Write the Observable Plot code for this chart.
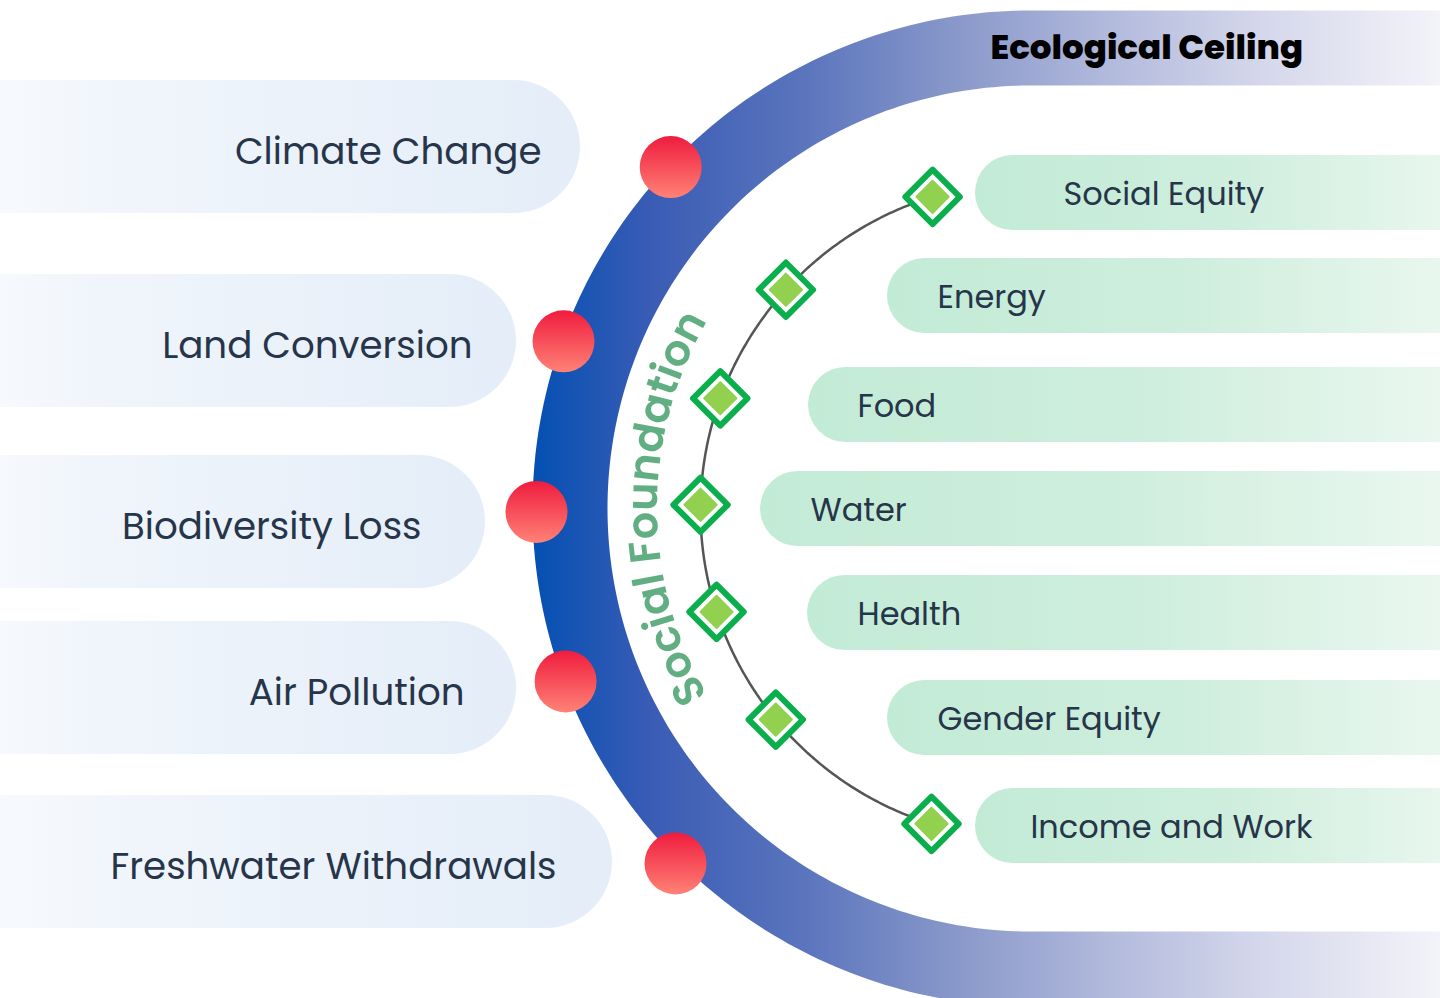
<!DOCTYPE html>
<html>
<head>
<meta charset="utf-8">
<script src="https://cdn.jsdelivr.net/npm/d3@7"></script>
<script src="https://cdn.jsdelivr.net/npm/@observablehq/plot@0.6"></script>
<style>
  html, body { margin: 0; padding: 0; background: #ffffff; overflow: hidden; }
  #chart svg { display: block; }
</style>
</head>
<body>
<div id="chart"></div>
<script>
// ---------------- DATA ----------------
const title = "Ecological Ceiling";
const foundationLabel = "Social Foundation";
const ceilingCategories = ["Climate Change", "Land Conversion", "Biodiversity Loss", "Air Pollution", "Freshwater Withdrawals"];
const foundationCategories = ["Social Equity", "Energy", "Food", "Water", "Health", "Gender Equity", "Income and Work"];

// ---------------- LAYOUT ----------------
const W = 1440, H = 998;
const band = {cx: 1030, cy: 508, rOuter: 498, rInner: 423};
const dia = {cx: 1028, cy: 510, r: 328};
const leftPillY = [146.5, 340.5, 521.5, 687.5, 861.5];
const leftPillEnd = [580, 516, 485, 516, 612];
const leftTextEnd = [541, 472, 421, 464, 556];
const redAngle = [43.5, 19.7, -0.4, -20.4, -45];        // degrees, from leftward, + = up
const redRadius = [496, 496, 494, 496, 502];
const rightPillY = [192.5, 295.5, 404.5, 508.5, 612.5, 717.5, 825.5];
const rightPillStart = [975, 887, 808, 760, 807, 887, 975];
const rightTextStart = [1063, 937, 857, 810, 857, 937, 1030];
const diamondAngle = [73, 42.3, 20, 1, -18, -39.6, -72.8];

const rad = d => d * Math.PI / 180;
const onCircle = (c, r, a) => ({x: c.cx - r * Math.cos(rad(a)), y: c.cy - r * Math.sin(rad(a))});

// tables for marks
const leftPills = ceilingCategories.map((name, i) => ({
  name, y: leftPillY[i], x1: -120, x2: leftPillEnd[i], tx: leftTextEnd[i]
}));
const redDots = ceilingCategories.map((name, i) => ({name, ...onCircle(band, redRadius[i], redAngle[i])}));
const rightPills = foundationCategories.map((name, i) => ({
  name, y: rightPillY[i], x1: rightPillStart[i], x2: W + 60, tx: rightTextStart[i]
}));
const diamonds = foundationCategories.map((name, i) => ({name, ...onCircle(dia, dia.r, diamondAngle[i])}));

// band centre line: horizontal top arm, half circle on the left, horizontal bottom arm
const rMid = (band.rOuter + band.rInner) / 2;
const bandPath = [{x: W + 80, y: band.cy - rMid}];
for (let a = 90; a >= -90; a -= 1) bandPath.push(onCircle(band, rMid, a));
bandPath.push({x: W + 80, y: band.cy + rMid});

// connecting arc between the first and last diamonds
const linkPath = [];
for (let a = diamondAngle[0]; a >= diamondAngle[diamondAngle.length - 1] - 0.01; a -= 0.5) linkPath.push(onCircle(dia, dia.r, a));

const ns = "http://www.w3.org/2000/svg";
function defsMark() {
  const defs = document.createElementNS(ns, "defs");
  defs.innerHTML = `
    <linearGradient id="bandGrad" gradientUnits="userSpaceOnUse" x1="533" y1="0" x2="1440" y2="0">
      <stop offset="0" stop-color="#0450b3"/>
      <stop offset="0.13" stop-color="#3a5cb5"/>
      <stop offset="0.30" stop-color="#5b75bd"/>
      <stop offset="0.46" stop-color="#8797c9"/>
      <stop offset="0.63" stop-color="#b1b9dc"/>
      <stop offset="0.80" stop-color="#d4d7eb"/>
      <stop offset="1" stop-color="#f3f3f9"/>
    </linearGradient>
    <linearGradient id="leftGrad" x1="0" y1="0" x2="1" y2="0">
      <stop offset="0" stop-color="#fdfeff"/>
      <stop offset="0.35" stop-color="#f0f5fb"/>
      <stop offset="1" stop-color="#e4edf8"/>
    </linearGradient>
    <linearGradient id="rightGrad" x1="0" y1="0" x2="1" y2="0">
      <stop offset="0" stop-color="#c2ebd6"/>
      <stop offset="0.5" stop-color="#cfeedd"/>
      <stop offset="1" stop-color="#eff9f3"/>
    </linearGradient>
    <linearGradient id="redGrad" x1="0" y1="0" x2="0" y2="1">
      <stop offset="0" stop-color="#ef1c3e"/>
      <stop offset="1" stop-color="#ff8276"/>
    </linearGradient>
    <filter id="soft" x="-10%" y="-10%" width="120%" height="120%">
      <feGaussianBlur stdDeviation="0.7"/>
    </filter>`;
  return defs;
}

function foundationText(index, scales) {
  const g = document.createElementNS(ns, "g");
  const r = 373;
  const pts = [];
  for (let a = -80; a <= 80; a += 1) {
    const p = onCircle(band, r, a);
    pts.push([scales.x(p.x), scales.y(p.y)]);
  }
  const path = document.createElementNS(ns, "path");
  path.setAttribute("id", "sfArc");
  path.setAttribute("d", "M" + pts.map(p => p.join(",")).join("L"));
  path.setAttribute("fill", "none");
  g.appendChild(path);
  const text = document.createElementNS(ns, "text");
  text.setAttribute("font-family", "Poppins, 'Open Sans', sans-serif");
  text.setAttribute("font-weight", "600");
  text.setAttribute("font-size", "43");
  text.setAttribute("fill", "#45a06c");
  text.setAttribute("fill-opacity", "0.85");
  text.setAttribute("filter", "url(#soft)");
  const tp = document.createElementNS(ns, "textPath");
  tp.setAttribute("href", "#sfArc");
  tp.setAttribute("startOffset", "50%");
  tp.setAttribute("text-anchor", "middle");
  tp.textContent = foundationLabel;
  text.appendChild(tp);
  g.appendChild(text);
  return g;
}

const font = "Poppins, 'Open Sans', sans-serif";
const chart = Plot.plot({
  width: W,
  height: H,
  margin: 0,
  x: {domain: [0, W], range: [0, W], axis: null},
  y: {domain: [0, H], range: [0, H], axis: null},
  style: {background: "#ffffff", fontFamily: font},
  marks: [
    defsMark,
    // left (ecological ceiling) pills
    Plot.rect(leftPills, {x1: "x1", x2: "x2", y1: d => d.y - 66.5, y2: d => d.y + 66.5, rx: 66.5, fill: "url(#leftGrad)", clip: true}),
    Plot.text(leftPills, {x: "tx", y: "y", dy: 5, text: "name", textAnchor: "end", fontSize: 37.2, fill: "#26354a", fontFamily: font}),
    // right (social foundation) pills
    Plot.rect(rightPills, {x1: "x1", x2: "x2", y1: d => d.y - 37.5, y2: d => d.y + 37.5, rx: 37.5, fill: "url(#rightGrad)", clip: true}),
    Plot.text(rightPills, {x: "tx", y: "y", dy: 1.5, text: "name", textAnchor: "start", fontSize: 32, fill: "#26354a", fontFamily: font}),
    // ecological ceiling band
    Plot.line(bandPath, {x: "x", y: "y", stroke: "url(#bandGrad)", strokeWidth: band.rOuter - band.rInner, curve: "linear", strokeLinecap: "butt", clip: true}),
    Plot.text([title], {x: 990, y: 48, text: d => d, textAnchor: "start", fontSize: 34.1, fontWeight: 800, fill: "#000000", fontFamily: font}),
    // red boundary markers
    Plot.dot(redDots, {x: "x", y: "y", r: 31, fill: "url(#redGrad)", stroke: null}),
    // foundation arc
    Plot.line(linkPath, {x: "x", y: "y", stroke: "#555555", strokeWidth: 2.5, curve: "linear"}),
    foundationText,
    // diamonds
    Plot.dot(diamonds, {x: "x", y: "y", symbol: "diamond2", r: 24.5, fill: "#ffffff", stroke: "#0bae4d", strokeWidth: 6, strokeLinejoin: "round"}),
    Plot.dot(diamonds, {x: "x", y: "y", symbol: "diamond2", r: 14.5, fill: "#92d050", stroke: "#92d050", strokeWidth: 2, strokeLinejoin: "round"})
  ]
});
document.getElementById("chart").appendChild(chart);
</script>
</body>
</html>
